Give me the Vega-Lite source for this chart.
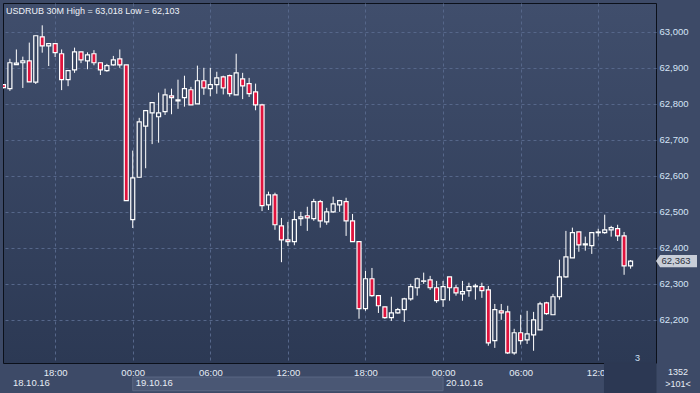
{
  "$schema": "https://vega.github.io/schema/vega-lite/v6.json",
  "width": 653,
  "height": 360,
  "autosize": {"type": "none"},
  "padding": {"left": 3, "top": 3, "right": 44, "bottom": 30},
  "background": "#3d4a67",
  "title": {"text": "USDRUB 30M  High = 63,018 Low = 62,103", "anchor": "start", "frame": "group", "orient": "top", "offset": -13, "dx": 3, "fontSize": 9, "fontWeight": "normal", "font": "Liberation Sans", "color": "#eef2f8"},
  "config": {
    "font": "Liberation Sans",
    "view": {"stroke": "#0b101a", "strokeWidth": 1, "fill": {"gradient": "linear", "x1": 0, "y1": 0, "x2": 0, "y2": 1, "stops": [{"offset": 0, "color": "#404e6c"}, {"offset": 1, "color": "#2c3954"}]}}
  },
  "datasets": {
    "candles": [
      {"t":"2016-10-18T14:00","o":62853,"h":62855,"l":62843,"c":62845},
      {"t":"2016-10-18T14:30","o":62842,"h":62925,"l":62836,"c":62914},
      {"t":"2016-10-18T15:00","o":62909,"h":62951,"l":62908,"c":62913},
      {"t":"2016-10-18T15:30","o":62914,"h":62931,"l":62844,"c":62919},
      {"t":"2016-10-18T16:00","o":62919,"h":62970,"l":62861,"c":62861},
      {"t":"2016-10-18T16:30","o":62860,"h":62989,"l":62855,"c":62989},
      {"t":"2016-10-18T17:00","o":62986,"h":63018,"l":62942,"c":62961},
      {"t":"2016-10-18T17:30","o":62961,"h":62967,"l":62905,"c":62967},
      {"t":"2016-10-18T18:00","o":62967,"h":62967,"l":62930,"c":62942},
      {"t":"2016-10-18T18:30","o":62939,"h":62951,"l":62838,"c":62867},
      {"t":"2016-10-18T19:00","o":62867,"h":62892,"l":62849,"c":62892},
      {"t":"2016-10-18T19:30","o":62894,"h":62956,"l":62886,"c":62944},
      {"t":"2016-10-18T20:00","o":62944,"h":62944,"l":62913,"c":62922},
      {"t":"2016-10-18T20:30","o":62919,"h":62943,"l":62896,"c":62936},
      {"t":"2016-10-18T21:00","o":62939,"h":62949,"l":62907,"c":62914},
      {"t":"2016-10-18T21:30","o":62914,"h":62914,"l":62880,"c":62894},
      {"t":"2016-10-18T22:00","o":62892,"h":62911,"l":62889,"c":62906},
      {"t":"2016-10-18T22:30","o":62908,"h":62933,"l":62906,"c":62922},
      {"t":"2016-10-18T23:00","o":62925,"h":62951,"l":62900,"c":62908},
      {"t":"2016-10-18T23:30","o":62908,"h":62908,"l":62531,"c":62531},
      {"t":"2016-10-19T00:00","o":62478,"h":62670,"l":62455,"c":62594},
      {"t":"2016-10-19T00:30","o":62596,"h":62761,"l":62596,"c":62750},
      {"t":"2016-10-19T01:00","o":62738,"h":62781,"l":62621,"c":62781},
      {"t":"2016-10-19T01:30","o":62775,"h":62803,"l":62688,"c":62803},
      {"t":"2016-10-19T02:00","o":62764,"h":62831,"l":62692,"c":62775},
      {"t":"2016-10-19T02:30","o":62778,"h":62842,"l":62769,"c":62825},
      {"t":"2016-10-19T03:00","o":62822,"h":62842,"l":62771,"c":62817},
      {"t":"2016-10-19T03:30","o":62808,"h":62867,"l":62786,"c":62811},
      {"t":"2016-10-19T04:00","o":62817,"h":62878,"l":62792,"c":62842},
      {"t":"2016-10-19T04:30","o":62839,"h":62847,"l":62797,"c":62797},
      {"t":"2016-10-19T05:00","o":62800,"h":62906,"l":62800,"c":62864},
      {"t":"2016-10-19T05:30","o":62864,"h":62900,"l":62825,"c":62844},
      {"t":"2016-10-19T06:00","o":62842,"h":62900,"l":62821,"c":62853},
      {"t":"2016-10-19T06:30","o":62853,"h":62889,"l":62828,"c":62872},
      {"t":"2016-10-19T07:00","o":62875,"h":62878,"l":62826,"c":62844},
      {"t":"2016-10-19T07:30","o":62878,"h":62881,"l":62820,"c":62828},
      {"t":"2016-10-19T08:00","o":62825,"h":62939,"l":62825,"c":62886},
      {"t":"2016-10-19T08:30","o":62869,"h":62886,"l":62813,"c":62850},
      {"t":"2016-10-19T09:00","o":62856,"h":62872,"l":62819,"c":62828},
      {"t":"2016-10-19T09:30","o":62833,"h":62856,"l":62782,"c":62797},
      {"t":"2016-10-19T10:00","o":62797,"h":62800,"l":62502,"c":62517},
      {"t":"2016-10-19T10:30","o":62519,"h":62556,"l":62505,"c":62547},
      {"t":"2016-10-19T11:00","o":62547,"h":62553,"l":62450,"c":62464},
      {"t":"2016-10-19T11:30","o":62461,"h":62483,"l":62360,"c":62422},
      {"t":"2016-10-19T12:00","o":62422,"h":62472,"l":62405,"c":62417},
      {"t":"2016-10-19T12:30","o":62417,"h":62503,"l":62407,"c":62478},
      {"t":"2016-10-19T13:00","o":62481,"h":62500,"l":62461,"c":62486},
      {"t":"2016-10-19T13:30","o":62489,"h":62514,"l":62447,"c":62483},
      {"t":"2016-10-19T14:00","o":62481,"h":62536,"l":62475,"c":62528},
      {"t":"2016-10-19T14:30","o":62528,"h":62533,"l":62456,"c":62475},
      {"t":"2016-10-19T15:00","o":62472,"h":62511,"l":62464,"c":62500},
      {"t":"2016-10-19T15:30","o":62500,"h":62542,"l":62497,"c":62522},
      {"t":"2016-10-19T16:00","o":62519,"h":62533,"l":62500,"c":62531},
      {"t":"2016-10-19T16:30","o":62528,"h":62539,"l":62433,"c":62475},
      {"t":"2016-10-19T17:00","o":62475,"h":62494,"l":62417,"c":62417},
      {"t":"2016-10-19T17:30","o":62417,"h":62417,"l":62203,"c":62231},
      {"t":"2016-10-19T18:00","o":62231,"h":62336,"l":62225,"c":62314},
      {"t":"2016-10-19T18:30","o":62314,"h":62344,"l":62264,"c":62267},
      {"t":"2016-10-19T19:00","o":62267,"h":62269,"l":62219,"c":62239},
      {"t":"2016-10-19T19:30","o":62236,"h":62236,"l":62203,"c":62206},
      {"t":"2016-10-19T20:00","o":62206,"h":62264,"l":62197,"c":62219},
      {"t":"2016-10-19T20:30","o":62219,"h":62233,"l":62217,"c":62228},
      {"t":"2016-10-19T21:00","o":62228,"h":62261,"l":62194,"c":62258},
      {"t":"2016-10-19T21:30","o":62258,"h":62300,"l":62253,"c":62292},
      {"t":"2016-10-19T22:00","o":62289,"h":62317,"l":62267,"c":62314},
      {"t":"2016-10-19T22:30","o":62307,"h":62331,"l":62300,"c":62308},
      {"t":"2016-10-19T23:00","o":62311,"h":62322,"l":62283,"c":62289},
      {"t":"2016-10-19T23:30","o":62289,"h":62308,"l":62247,"c":62253},
      {"t":"2016-10-20T00:00","o":62256,"h":62308,"l":62236,"c":62292},
      {"t":"2016-10-20T00:30","o":62319,"h":62319,"l":62253,"c":62289},
      {"t":"2016-10-20T01:00","o":62289,"h":62297,"l":62267,"c":62275},
      {"t":"2016-10-20T01:30","o":62272,"h":62308,"l":62253,"c":62278},
      {"t":"2016-10-20T02:00","o":62281,"h":62303,"l":62264,"c":62292},
      {"t":"2016-10-20T02:30","o":62292,"h":62300,"l":62256,"c":62294},
      {"t":"2016-10-20T03:00","o":62292,"h":62303,"l":62261,"c":62281},
      {"t":"2016-10-20T03:30","o":62283,"h":62294,"l":62128,"c":62136},
      {"t":"2016-10-20T04:00","o":62142,"h":62244,"l":62122,"c":62228},
      {"t":"2016-10-20T04:30","o":62225,"h":62244,"l":62200,"c":62219},
      {"t":"2016-10-20T05:00","o":62222,"h":62239,"l":62105,"c":62108},
      {"t":"2016-10-20T05:30","o":62108,"h":62175,"l":62103,"c":62164},
      {"t":"2016-10-20T06:00","o":62164,"h":62214,"l":62131,"c":62142},
      {"t":"2016-10-20T06:30","o":62144,"h":62225,"l":62133,"c":62161},
      {"t":"2016-10-20T07:00","o":62158,"h":62222,"l":62114,"c":62200},
      {"t":"2016-10-20T07:30","o":62172,"h":62250,"l":62172,"c":62244},
      {"t":"2016-10-20T08:00","o":62247,"h":62250,"l":62214,"c":62217},
      {"t":"2016-10-20T08:30","o":62214,"h":62272,"l":62214,"c":62264},
      {"t":"2016-10-20T09:00","o":62264,"h":62367,"l":62256,"c":62319},
      {"t":"2016-10-20T09:30","o":62319,"h":62447,"l":62317,"c":62375},
      {"t":"2016-10-20T10:00","o":62372,"h":62456,"l":62372,"c":62442},
      {"t":"2016-10-20T10:30","o":62444,"h":62444,"l":62389,"c":62408},
      {"t":"2016-10-20T11:00","o":62408,"h":62431,"l":62392,"c":62411},
      {"t":"2016-10-20T11:30","o":62406,"h":62444,"l":62383,"c":62442},
      {"t":"2016-10-20T12:00","o":62442,"h":62453,"l":62431,"c":62444},
      {"t":"2016-10-20T12:30","o":62442,"h":62492,"l":62439,"c":62450},
      {"t":"2016-10-20T13:00","o":62450,"h":62461,"l":62431,"c":62456},
      {"t":"2016-10-20T13:30","o":62453,"h":62464,"l":62419,"c":62433},
      {"t":"2016-10-20T14:00","o":62433,"h":62444,"l":62325,"c":62350},
      {"t":"2016-10-20T14:30","o":62350,"h":62366,"l":62342,"c":62363}
    ]
  },
  "layer": [
    {
      "data": {"name": "candles"},
      "mark": {"type": "rule", "color": "#ffffff", "strokeWidth": 1, "clip": true},
      "encoding": {
        "x": {"field": "t", "type": "temporal",
          "scale": {"domain": ["2016-10-18T13:58", "2016-10-20T16:28"], "nice": false, "padding": 0},
          "axis": {"title": null, "format": "%H:%M", "tickCount": 8, "grid": true, "gridColor": "#56678a", "gridDash": [3, 3], "domain": false, "ticks": false, "labelColor": "#e6ecf5", "labelFontSize": 9.5, "labelPadding": 4, "labelFlush": false, "labelOverlap": false}},
        "y": {"field": "l", "type": "quantitative",
          "scale": {"domain": [62080, 63080], "nice": false, "zero": false, "padding": 0},
          "axis": {"orient": "right", "title": null, "values": [62200, 62300, 62400, 62500, 62600, 62700, 62800, 62900, 63000], "format": ",.0f", "grid": true, "gridColor": "#56678a", "gridDash": [3, 3], "domain": false, "ticks": false, "labelColor": "#d6e4f6", "labelFontSize": 9.5, "labelPadding": 3}},
        "y2": {"field": "h"}
      }
    },
    {
      "data": {"name": "candles"},
      "mark": {"type": "bar", "width": 4, "stroke": "#ffffff", "strokeWidth": 1.2, "clip": true},
      "encoding": {
        "x": {"field": "t", "type": "temporal"},
        "y": {"field": "o", "type": "quantitative"},
        "y2": {"field": "c"},
        "fill": {"condition": {"test": "datum.o > datum.c", "value": "#e0133d"}, "value": "#36435f"}
      }
    },
    {
      "data": {"values": [
        {"t0": "2016-10-19T00:00", "t1": "2016-10-20T00:00", "p0": 62041, "p1": 62003, "kind": "day"},
        {"t0": "2016-10-20T12:29", "t1": "2016-10-20T16:28", "p0": 62080, "p1": 61995, "kind": "box"}
      ]},
      "mark": {"type": "rect", "strokeWidth": 1},
      "encoding": {
        "x": {"field": "t0", "type": "temporal"},
        "x2": {"field": "t1"},
        "y": {"field": "p0", "type": "quantitative"},
        "y2": {"field": "p1"},
        "fill": {"condition": {"test": "datum.kind === 'day'", "value": "#4a5774"}, "value": "#2c3853"},
        "stroke": {"condition": {"test": "datum.kind === 'day'", "value": "#5b6883"}, "value": "#2c3853"}
      }
    },
    {
      "data": {"values": [{"t": "2016-10-18T14:30", "label": "18.10.16"}, {"t": "2016-10-19T00:00", "label": "19.10.16"}, {"t": "2016-10-20T00:00", "label": "20.10.16"}]},
      "mark": {"type": "text", "align": "left", "baseline": "middle", "dx": 3, "dy": 20, "fontSize": 9.5, "color": "#e6ecf5"},
      "encoding": {
        "x": {"field": "t", "type": "temporal"},
        "y": {"datum": 62080},
        "text": {"field": "label"}
      }
    },
    {
      "data": {"values": [{"t": "2016-10-20T15:02", "p": 62094, "label": "3"}]},
      "mark": {"type": "text", "align": "center", "baseline": "middle", "fontSize": 9, "color": "#cfe0f5"},
      "encoding": {
        "x": {"field": "t", "type": "temporal"},
        "y": {"field": "p", "type": "quantitative"},
        "text": {"field": "label"}
      }
    },
    {
      "data": {"values": [{"t": "2016-10-20T16:28", "p": 62055, "label": "1352"}, {"t": "2016-10-20T16:28", "p": 62022, "label": ">101<"}]},
      "mark": {"type": "text", "align": "center", "baseline": "middle", "dx": 22, "fontSize": 9, "color": "#e6ecf5"},
      "encoding": {
        "x": {"field": "t", "type": "temporal"},
        "y": {"field": "p", "type": "quantitative"},
        "text": {"field": "label"}
      }
    },
    {
      "data": {"values": [{"t": "2016-10-20T16:28", "last": 62363}]},
      "mark": {"type": "point", "filled": true, "opacity": 1, "size": 6724, "shape": "M0,0 L0.1,-0.15 L1,-0.15 L1,0.15 L0.1,0.15 Z", "fill": "#c9ced8", "strokeWidth": 0},
      "encoding": {
        "x": {"field": "t", "type": "temporal"},
        "y": {"field": "last", "type": "quantitative"}
      }
    },
    {
      "data": {"values": [{"t": "2016-10-20T16:28", "last": 62363}]},
      "mark": {"type": "text", "align": "center", "baseline": "middle", "dx": 20, "fontSize": 9.5, "color": "#2b303b"},
      "encoding": {
        "x": {"field": "t", "type": "temporal"},
        "y": {"field": "last", "type": "quantitative"},
        "text": {"field": "last", "type": "quantitative", "format": ",.0f"}
      }
    }
  ]
}
